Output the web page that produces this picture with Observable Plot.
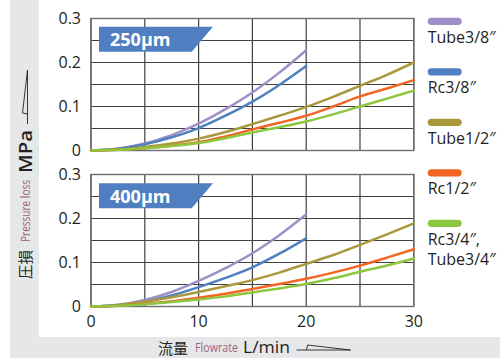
<!DOCTYPE html>
<html><head><meta charset="utf-8">
<script src="https://cdn.jsdelivr.net/npm/d3@7"></script>
<script src="https://cdn.jsdelivr.net/npm/@observablehq/plot@0.6"></script>
<style>
html,body{margin:0;padding:0;background:#fff;}
#wrap{position:relative;width:500px;height:358px;overflow:hidden;background:#fff;font-family:"Open Sans",sans-serif;}
.band{position:absolute;background:#e6e7e8;}
#plot,#overlay{position:absolute;left:0;top:0;}
</style></head><body>
<div id="wrap">
<div class="band" style="left:10px;top:0;width:29px;height:358px"></div>
<div class="band" style="left:10px;top:337px;width:490px;height:21px"></div>
<div id="plot"></div>
<svg id="overlay" width="500" height="358"></svg>
</div>
<script>
// ---- data ----
const panels = ["250μm", "400μm"];
const seriesNames = ["Tube3/8″", "Rc3/8″", "Tube1/2″", "Rc1/2″", "Rc3/4″,\nTube3/4″"];
const seriesColors = ["#9d8fc7", "#4f7fc0", "#a89a3c", "#f26522", "#8dc63f"];
const flow = [0, 2.5, 5, 7.5, 10, 12.5, 15, 17.5, 20, 22.5, 25, 27.5, 30];

// 250μm
const tube38_250 = [0, 0.004, 0.016, 0.035, 0.061, 0.094, 0.132, 0.177, 0.228];
const rc38_250   = [0, 0.004, 0.014, 0.030, 0.051, 0.079, 0.111, 0.149, 0.192];
const tube12_250 = [0, 0.002, 0.008, 0.016, 0.027, 0.042, 0.060, 0.079, 0.099, 0.122, 0.147, 0.172, 0.200];
const rc12_250   = [0, 0.0015, 0.005, 0.011, 0.019, 0.032, 0.048, 0.063, 0.079, 0.100, 0.123, 0.141, 0.160];
const rc34_250   = [0, 0.0015, 0.005, 0.010, 0.017, 0.028, 0.041, 0.053, 0.066, 0.082, 0.100, 0.118, 0.136];
// 400μm
const tube38_400 = [0, 0.004, 0.015, 0.033, 0.058, 0.087, 0.121, 0.162, 0.209];
const rc38_400   = [0, 0.003, 0.011, 0.025, 0.044, 0.065, 0.089, 0.120, 0.155];
const tube12_400 = [0, 0.003, 0.011, 0.021, 0.033, 0.046, 0.060, 0.077, 0.097, 0.117, 0.140, 0.164, 0.189];
const rc12_400   = [0, 0.0015, 0.006, 0.012, 0.020, 0.029, 0.040, 0.051, 0.063, 0.077, 0.093, 0.111, 0.130];
const rc34_400   = [0, 0.0015, 0.005, 0.010, 0.016, 0.023, 0.032, 0.041, 0.051, 0.064, 0.079, 0.093, 0.109];

const xTicks = [0, 10, 20, 30];
const xTickLabels = ["0", "10", "20", "30"];
const yTicks = [0, 0.1, 0.2, 0.3];
const yTickLabels = ["0", "0.1", "0.2", "0.3"];
const xGrid = [0, 5, 10, 15, 20, 25, 30];
const yGrid = [0, 0.05, 0.1, 0.15, 0.2, 0.25, 0.3];

// ---- build table ----
const bySeries = [
  [tube38_250, rc38_250, tube12_250, rc12_250, rc34_250],
  [tube38_400, rc38_400, tube12_400, rc12_400, rc34_400]
];
const rows = [];
bySeries.forEach((arrs, p) => arrs.forEach((vals, s) => vals.forEach((v, i) =>
  rows.push({panel: panels[p], series: seriesNames[s], x: flow[i], y: v}))));

const ink = "#231f20";
const chart = Plot.plot({
  width: 500, height: 358,
  marginLeft: 90.5, marginRight: 86.7, marginTop: 17.7, marginBottom: 51.3,
  style: {background: "transparent", fontFamily: "'Open Sans', sans-serif", fontSize: "16px", color: ink},
  x: {domain: [0, 30]},
  y: {domain: [0, 0.3]},
  fy: {domain: panels, paddingInner: 0.155, paddingOuter: 0, axis: null},
  color: {domain: seriesNames, range: seriesColors},
  marks: [
    Plot.gridX({ticks: xGrid, stroke: "#404040", strokeOpacity: 1, strokeWidth: 1.2}),
    Plot.gridY({ticks: yGrid, stroke: "#404040", strokeOpacity: 1, strokeWidth: 1.2}),
    Plot.frame({stroke: "#6d6e70", strokeWidth: 1.4}),
    Plot.axisY({ticks: yTicks, tickFormat: d => yTickLabels[yTicks.indexOf(d)], tickSize: 0, tickPadding: 10, label: null, fontSize: 16}),
    Plot.axisX({ticks: xTicks, tickFormat: d => xTickLabels[xTicks.indexOf(d)], tickSize: 0, tickPadding: 9, label: null, fontSize: 16}),
    Plot.line(rows, {x: "x", y: "y", z: "series", stroke: "series", fy: "panel", strokeWidth: 2.5, curve: "monotone-x"})
  ]
});
document.getElementById("plot").appendChild(chart);

// ---- overlay: badges, titles, legend ----
const ov = d3.select("#overlay").style("font-family", "'Open Sans', sans-serif");
const mauve = "#a0627f";

// panel badges
panels.forEach((lab, i) => {
  const t = 26.7 + i * 156.6, b = t + 25;
  ov.append("polygon")
    .attr("points", `99,${t} 213,${t} 191.7,${b} 99,${b}`)
    .attr("fill", "#4f7fc0");
  ov.append("text").attr("x", 110).attr("y", (t + b) / 2)
    .attr("dominant-baseline", "central").attr("fill", "#fff")
    .attr("font-weight", "bold").attr("font-size", 18).text(lab);
});

function wedge(g, x0, y0) {
  g.append("path")
    .attr("d", `M${x0},${y0} H${x0 + 54} M${x0 + 10},${y0} L${x0 + 11},${y0 - 5} L${x0 + 54},${y0}`)
    .attr("fill", "none").attr("stroke", ink).attr("stroke-width", 0.9);
}

// x title
const xty = 347;
const xt = ov.append("g");
xt.append("text").attr("x", 158).attr("y", xty).attr("dominant-baseline", "central")
  .attr("font-family", "'Noto Sans CJK JP'").attr("font-size", 15).attr("fill", ink)
  .attr("textLength", 30).attr("lengthAdjust", "spacingAndGlyphs").text("流量");
xt.append("text").attr("x", 195).attr("y", xty).attr("dominant-baseline", "central")
  .attr("font-size", 13).attr("fill", mauve)
  .attr("textLength", 43).attr("lengthAdjust", "spacingAndGlyphs").text("Flowrate");
xt.append("text").attr("x", 243).attr("y", xty).attr("dominant-baseline", "central")
  .attr("font-size", 16).attr("fill", ink)
  .attr("textLength", 47).attr("lengthAdjust", "spacingAndGlyphs").text("L/min");
wedge(xt, 296.5, 350);

// y title (rotated)
const yt = ov.append("g").attr("transform", "translate(24.5,0) rotate(-90)");
yt.append("text").attr("x", -279).attr("y", 0).attr("dominant-baseline", "central")
  .attr("font-family", "'Noto Sans CJK JP'").attr("font-size", 15).attr("fill", ink)
  .attr("textLength", 29).attr("lengthAdjust", "spacingAndGlyphs").text("圧損");
yt.append("text").attr("x", -242).attr("y", 0).attr("dominant-baseline", "central")
  .attr("font-size", 13).attr("fill", mauve)
  .attr("textLength", 62).attr("lengthAdjust", "spacingAndGlyphs").text("Pressure loss");
yt.append("text").attr("x", -173).attr("y", 0).attr("dominant-baseline", "central")
  .attr("font-size", 18).attr("font-weight", 600).attr("fill", ink)
  .attr("textLength", 43).attr("lengthAdjust", "spacingAndGlyphs").text("MPa");
wedge(yt, -124, 3);

// legend
seriesNames.forEach((name, i) => {
  const cy = 21.3 + i * 50.5;
  ov.append("rect").attr("x", 427.7).attr("y", cy - 3.6).attr("width", 34).attr("height", 7.2)
    .attr("rx", 3.6).attr("fill", seriesColors[i]);
  name.split("\n").forEach((line, j) => {
    ov.append("text").attr("x", 427.7).attr("y", cy + 15.4 + j * 20.7)
      .attr("dominant-baseline", "central").attr("font-size", 16).attr("fill", ink).text(line);
  });
});
</script>
</body></html>
